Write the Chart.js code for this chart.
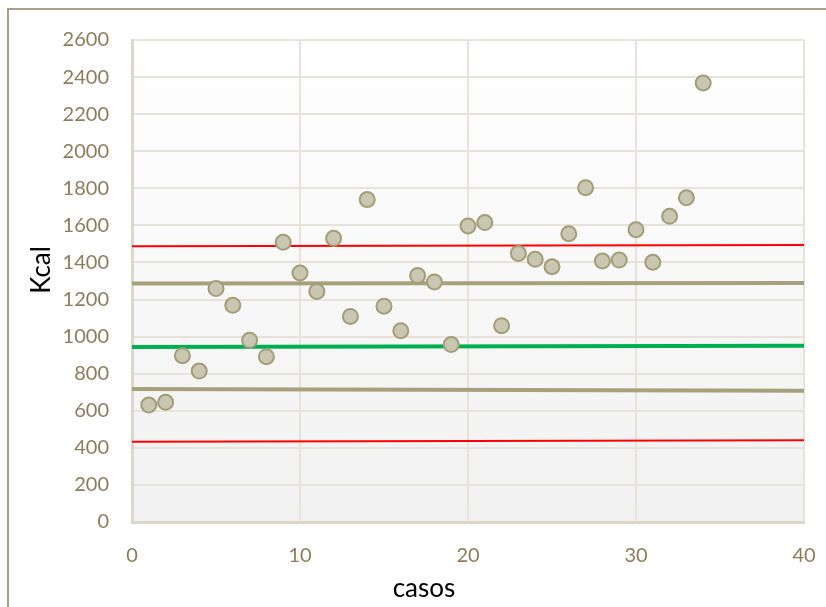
<!DOCTYPE html>
<html lang="es">
<head>
  <meta charset="UTF-8" />
  <title>Kcal por caso</title>
  <script src="https://cdn.jsdelivr.net/npm/chart.js"></script>
  <style>
    html, body {
      margin: 0;
      padding: 0;
      background: #ffffff;
      overflow: hidden;
    }
    #wrap {
      position: relative;
      width: 826px;
      height: 607px;
    }
    #frame {
      position: absolute;
      left: 7px;
      top: 8px;
      width: 900px;
      height: 700px;
      border: 2px solid #a9a282;
      pointer-events: none;
    }
    canvas {
      position: absolute;
      left: 0;
      top: 0;
    }
  </style>
</head>
<body>
  <div id="wrap">
    <div id="frame"></div>
    <canvas id="kcalChart" width="826" height="607"></canvas>
  </div>

  <script>
    // data
    const casos = [1, 2, 3, 4, 5, 6, 7, 8, 9, 10, 11, 12, 13, 14, 15, 16, 17,
                   18, 19, 20, 21, 22, 23, 24, 25, 26, 27, 28, 29, 30, 31, 32, 33, 34];
    const kcal = [631, 646, 897, 814, 1259, 1169, 980, 892, 1509, 1343, 1244, 1530,
                  1109, 1739, 1164, 1032, 1329, 1295, 957, 1597, 1615, 1059, 1449,
                  1417, 1377, 1555, 1803, 1408, 1413, 1577, 1401, 1649, 1749, 2368];

    // reference lines: value at x = 0 and at x = 40
    const lineX = [0, 40];
    const redUpper = [1487, 1494];
    const tanUpper = [1286, 1289];
    const media = [944, 951];
    const tanLower = [717, 708];
    const redLower = [433, 441];

    const xTicks = [0, 10, 20, 30, 40];
    const yTicks = [0, 200, 400, 600, 800, 1000, 1200, 1400, 1600, 1800, 2000, 2200, 2400, 2600];

    const xTitle = 'casos';
    const yTitle = 'Kcal';

    const tickColor = '#8b7d5c';
    const gridColor = '#e7e3db';

    function toLine(ys) {
      return lineX.map((x, i) => ({ x: x, y: ys[i] }));
    }

    function lineSet(ys, color, width) {
      return {
        data: toLine(ys),
        showLine: true,
        borderColor: color,
        borderWidth: width,
        pointRadius: 0,
        pointHoverRadius: 0,
        fill: false
      };
    }

    // light gradient behind the plot area
    const plotBackground = {
      id: 'plotBackground',
      beforeDraw(chart) {
        const { ctx, chartArea: a } = chart;
        const g = ctx.createLinearGradient(0, a.top, 0, a.bottom);
        g.addColorStop(0, '#ffffff');
        g.addColorStop(1, '#f1f1f1');
        ctx.save();
        ctx.fillStyle = g;
        ctx.fillRect(a.left, a.top, a.right - a.left, a.bottom - a.top);
        ctx.restore();
      }
    };

    // axis titles sit a little off centre in the original
    const axisTitles = {
      id: 'axisTitles',
      afterDraw(chart) {
        const ctx = chart.ctx;
        ctx.save();
        ctx.fillStyle = '#000000';
        ctx.font = '26px Lato, sans-serif';
        ctx.textAlign = 'center';
        ctx.textBaseline = 'middle';
        ctx.fillText(xTitle, 424, 589);
        ctx.translate(42, 270);
        ctx.rotate(-Math.PI / 2);
        ctx.fillText(yTitle, 0, 0);
        ctx.restore();
      }
    };

    const ctx = document.getElementById('kcalChart').getContext('2d');
    const kcalChart = new Chart(ctx, {
      type: 'scatter',
      data: {
        datasets: [
          {
            data: casos.map((c, i) => ({ x: c, y: kcal[i] })),
            backgroundColor: '#c9c6b1',
            borderColor: '#a39d77',
            borderWidth: 2,
            pointRadius: 7.5,
            pointHoverRadius: 7.5
          },
          lineSet(redUpper, '#ff0000', 2),
          lineSet(tanUpper, '#a7a17b', 4),
          lineSet(media, '#00b050', 4),
          lineSet(tanLower, '#a7a17b', 4),
          lineSet(redLower, '#ff0000', 2)
        ]
      },
      options: {
        responsive: false,
        animation: false,
        layout: {
          padding: { left: 0, top: 40, right: 22, bottom: 0 }
        },
        plugins: {
          legend: { display: false },
          tooltip: { enabled: false }
        },
        scales: {
          x: {
            type: 'linear',
            min: 0,
            max: 40,
            afterBuildTicks: s => { s.ticks = xTicks.map(v => ({ value: v })); },
            afterFit: s => {
              s.height = 85;
              s.paddingLeft = 0;
              s.paddingRight = 0;
            },
            grid: { color: gridColor, lineWidth: 2, drawTicks: false },
            border: { color: '#dcd7ca', width: 3 },
            ticks: {
              color: tickColor,
              padding: 22,
              callback: v => String(v),
              font: { family: 'Lato, sans-serif', size: 20 }
            }
          },
          y: {
            min: 0,
            max: 2600,
            afterBuildTicks: s => { s.ticks = yTicks.map(v => ({ value: v })); },
            afterFit: s => { s.width = 132; },
            grid: { color: gridColor, lineWidth: 2, drawTicks: false },
            border: { color: '#dcd7ca', width: 3 },
            ticks: {
              color: tickColor,
              padding: 23,
              callback: v => String(v),
              font: { family: 'Lato, sans-serif', size: 20 }
            }
          }
        }
      },
      plugins: [plotBackground, axisTitles]
    });
  </script>
</body>
</html>
